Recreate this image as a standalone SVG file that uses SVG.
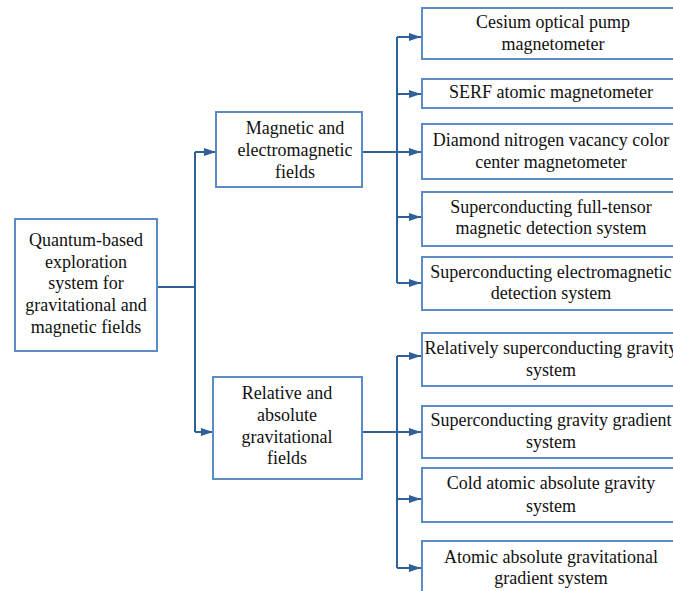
<svg xmlns="http://www.w3.org/2000/svg" width="673" height="591" viewBox="0 0 673 591">
<style>
.box{fill:#fff;stroke:#5b8cc8;stroke-width:2}
.c{fill:none;stroke:#2f6098;stroke-width:2}
text{font-family:"Liberation Serif","Times New Roman",serif;font-size:18px;fill:#111;text-anchor:middle}
</style>
<defs>
<marker id="ah" markerWidth="12" markerHeight="8" refX="12" refY="4" orient="auto" markerUnits="userSpaceOnUse">
<path d="M0,0 L12,4 L0,8 z" fill="#2f6098"/>
</marker>
</defs>
<rect width="673" height="591" fill="#fff"/>
<g id="connectors">
<path class="c" d="M157,287 H195 M195,152 V432"/>
<path class="c" d="M195,152 H216" marker-end="url(#ah)"/>
<path class="c" d="M195,432 H213" marker-end="url(#ah)"/>
<path class="c" d="M362,152 H421" marker-end="url(#ah)"/>
<path class="c" d="M397,37 V283"/>
<path class="c" d="M397,37 H421" marker-end="url(#ah)"/>
<path class="c" d="M397,94 H421" marker-end="url(#ah)"/>
<path class="c" d="M397,217 H421" marker-end="url(#ah)"/>
<path class="c" d="M397,283 H421" marker-end="url(#ah)"/>
<path class="c" d="M362,432 H421" marker-end="url(#ah)"/>
<path class="c" d="M397,356 V568"/>
<path class="c" d="M397,356 H421" marker-end="url(#ah)"/>
<path class="c" d="M397,499 H421" marker-end="url(#ah)"/>
<path class="c" d="M397,568 H421" marker-end="url(#ah)"/>
</g>
<g id="root">
<rect class="box" x="15" y="219" width="142" height="132"/>
<text x="86" y="246">Quantum-based</text>
<text x="86" y="268">exploration</text>
<text x="86" y="289">system for</text>
<text x="86" y="311">gravitational and</text>
<text x="86" y="333">magnetic fields</text>
</g>
<g id="magnetic">
<rect class="box" x="216" y="112" width="146" height="75"/>
<text x="295" y="134">Magnetic and</text>
<text x="295" y="156">electromagnetic</text>
<text x="295" y="178">fields</text>
</g>
<g id="gravitational">
<rect class="box" x="213" y="377" width="149" height="102"/>
<text x="287" y="399">Relative and</text>
<text x="287" y="421">absolute</text>
<text x="287" y="443">gravitational</text>
<text x="287" y="464">fields</text>
</g>
<g id="cesium">
<rect class="box" x="422" y="8" width="260" height="51"/>
<text x="553" y="28">Cesium optical pump</text>
<text x="553" y="50">magnetometer</text>
</g>
<g id="serf">
<rect class="box" x="422" y="79" width="260" height="29"/>
<text x="551" y="98">SERF atomic magnetometer</text>
</g>
<g id="diamond">
<rect class="box" x="422" y="124" width="260" height="55"/>
<text x="551" y="146">Diamond nitrogen vacancy color</text>
<text x="551" y="168">center magnetometer</text>
</g>
<g id="fulltensor">
<rect class="box" x="422" y="192" width="260" height="54"/>
<text x="551" y="213">Superconducting full-tensor</text>
<text x="551" y="234">magnetic detection system</text>
</g>
<g id="electromagnetic">
<rect class="box" x="422" y="257" width="260" height="53"/>
<text x="551" y="278">Superconducting electromagnetic</text>
<text x="551" y="299">detection system</text>
</g>
<g id="relgravity">
<rect class="box" x="422" y="333" width="260" height="53"/>
<text x="551" y="354">Relatively superconducting gravity</text>
<text x="551" y="376">system</text>
</g>
<g id="gradient">
<rect class="box" x="422" y="406" width="260" height="52"/>
<text x="551" y="426">Superconducting gravity gradient</text>
<text x="551" y="448">system</text>
</g>
<g id="cold">
<rect class="box" x="422" y="468" width="260" height="54"/>
<text x="551" y="489">Cold atomic absolute gravity</text>
<text x="551" y="512">system</text>
</g>
<g id="atomicgrad">
<rect class="box" x="422" y="541" width="260" height="60"/>
<text x="551" y="563">Atomic absolute gravitational</text>
<text x="551" y="584">gradient system</text>
</g>
</svg>
